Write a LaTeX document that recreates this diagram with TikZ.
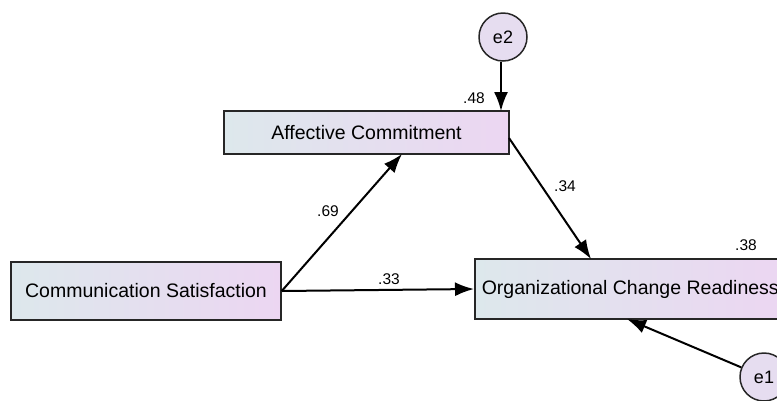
\documentclass[tikz,border=0pt]{standalone}
\usepackage{fontspec}
\setmainfont{Liberation Sans}
\usetikzlibrary{arrows.meta,shadings}
\definecolor{boxleft}{HTML}{DDE8EC}
\definecolor{boxright}{HTML}{ECD6F2}
\definecolor{circfill}{HTML}{E6DDF0}
\tikzset{
  varbox/.style={draw=black!85, line width=1.5pt, left color=boxleft, right color=boxright, inner sep=0pt, font=\fontsize{19.5}{22}\selectfont},
  errc/.style={circle, draw=black!85, line width=1.5pt, fill=circfill, minimum size=48pt, inner sep=0pt, font=\fontsize{18}{20}\selectfont},
  path/.style={line width=2pt, -{Latex[length=19pt,width=14pt]}},
  coef/.style={font=\fontsize{15.5}{17}\selectfont, inner sep=0pt}
}
\begin{document}
\begin{tikzpicture}[x=1pt,y=-1pt]
\useasboundingbox (0,0) rectangle (777,400);
\node[varbox, minimum width=270pt, minimum height=58pt] (cs) at (146,291) {Communication Satisfaction};
\node[varbox, minimum width=285pt, minimum height=43pt] (ac) at (366.5,132.5) {Affective Commitment};
\node[varbox, minimum height=60pt, inner xsep=7pt, anchor=west] (ocr) at (474,289) {Organizational Change Readiness};
\node[errc] (e2) at (503,37) {e2};
\node[errc] (e1) at (764,377) {e1};
\coordinate (acin) at (402,154);
\coordinate (acout) at (509,138);
\coordinate (ocrtop) at (591,259);
\coordinate (ocrbot) at (627,319);
\coordinate (actop) at (501,111);
\draw[path] (cs.east) -- (acin);
\draw[path] (cs.east) -- (ocr.west);
\draw[path] (acout) -- (ocrtop);
\draw[path] (e2.south -| actop) -- (actop);
\draw[path] (e1) -- (ocrbot);
\node[coef] (l69) at (328,211) {.69};
\node[coef] (l33) at (389,279) {.33};
\node[coef] (l34) at (565,186) {.34};
\node[coef] (l48) at (474,98) {.48};
\node[coef] (l38) at (746,245) {.38};
\end{tikzpicture}
\end{document}
